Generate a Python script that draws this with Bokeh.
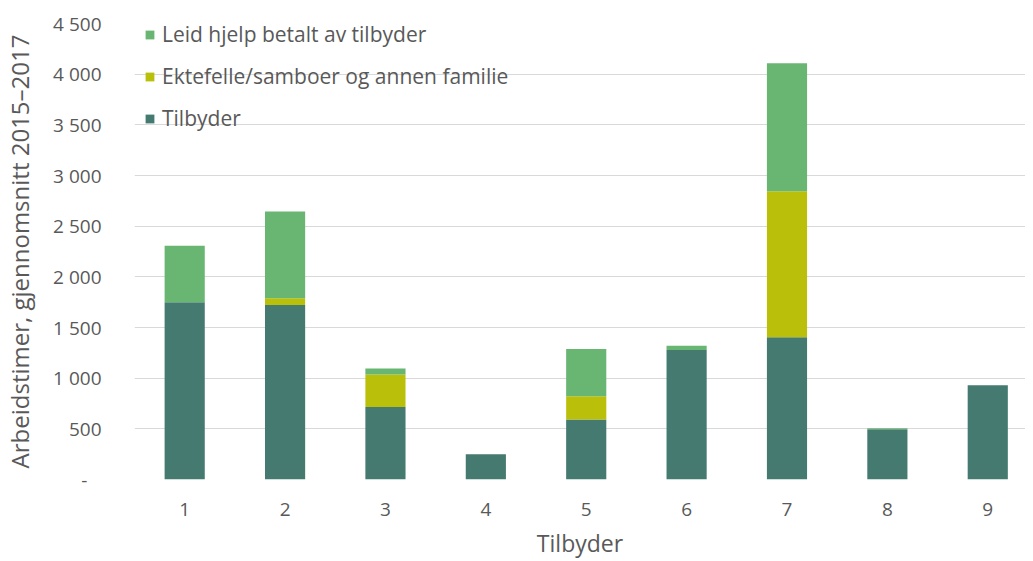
from bokeh.plotting import figure
from bokeh.models import Range1d, FixedTicker, Legend, LegendItem, ColumnDataSource
from bokeh.embed import file_html
from bokeh.resources import INLINE

# ---- data ----
providers = [1, 2, 3, 4, 5, 6, 7, 8, 9]
provider_labels = ["1", "2", "3", "4", "5", "6", "7", "8", "9"]
tilbyder = [1750, 1723, 716, 248, 592, 1277, 1403, 496, 930]
familie = [0, 66, 321, 0, 230, 0, 1442, 0, 0]
leid = [557, 855, 59, 0, 465, 43, 1262, 10, 0]
series_names = ["Tilbyder", "Ektefelle/samboer og annen familie", "Leid hjelp betalt av tilbyder"]
y_ticks = [0, 500, 1000, 1500, 2000, 2500, 3000, 3500, 4000, 4500]
y_tick_labels = ["-\u2007\u2009", "500", "1 000", "1 500", "2 000", "2 500", "3 000", "3 500", "4 000", "4 500"]

colors = ["#447A70", "#BAC00A", "#68B672"]
FONT = "Open Sans"
TXT = "#595959"

source = ColumnDataSource(dict(x=providers, tilbyder=tilbyder, familie=familie, leid=leid))

p = figure(width=1025, height=561, output_backend="svg", toolbar_location=None,
           x_range=Range1d(0.5, 9.376), y_range=Range1d(0, 4500),
           min_border_left=125, min_border_right=0, min_border_top=23, min_border_bottom=82)
p.outline_line_color = None
p.background_fill_color = "white"
p.border_fill_color = "white"

renderers = p.vbar_stack(["tilbyder", "familie", "leid"], x="x", width=0.4, source=source,
                         color=colors, line_color=None)

# axes
p.xaxis.ticker = FixedTicker(ticks=providers)
p.xaxis.major_label_overrides = {k: v for k, v in zip(providers, provider_labels)}
p.yaxis.ticker = FixedTicker(ticks=y_ticks)
p.yaxis.major_label_overrides = {k: v for k, v in zip(y_ticks, y_tick_labels)}

for ax in (p.xaxis[0], p.yaxis[0]):
    ax.axis_line_color = None
    ax.major_tick_line_color = None
    ax.minor_tick_line_color = None
    ax.major_label_text_font = FONT
    ax.major_label_text_font_size = "19px"
    ax.major_label_text_color = TXT
    ax.axis_label_text_font = FONT
    ax.axis_label_text_font_style = "normal"
    ax.axis_label_text_color = TXT

p.xaxis.axis_label = "Tilbyder"
p.xaxis.axis_label_text_font_size = "23px"
p.xaxis.major_label_standoff = 17
p.xaxis.axis_label_standoff = 8
p.yaxis.axis_label = "Arbeidstimer, gjennomsnitt 2015\u20132017"
p.yaxis.axis_label_text_font_size = "24px"
p.yaxis.major_label_standoff = 27
p.yaxis.axis_label_standoff = 14

p.xgrid.grid_line_color = None
p.ygrid.grid_line_color = "#D9D9D9"
p.ygrid.grid_line_width = 1.2

items = [LegendItem(label=series_names[i], renderers=[renderers[i]]) for i in (2, 1, 0)]
legend = Legend(items=items, location=(10, 347), padding=0, margin=0,
                border_line_color=None, background_fill_alpha=0,
                glyph_width=11, glyph_height=11, label_height=20, spacing=14,
                label_standoff=7, label_text_font=FONT, label_text_font_size="21px",
                label_text_color=TXT)
p.add_layout(legend, "center")

open("out.html", "w").write(file_html(p, INLINE))
